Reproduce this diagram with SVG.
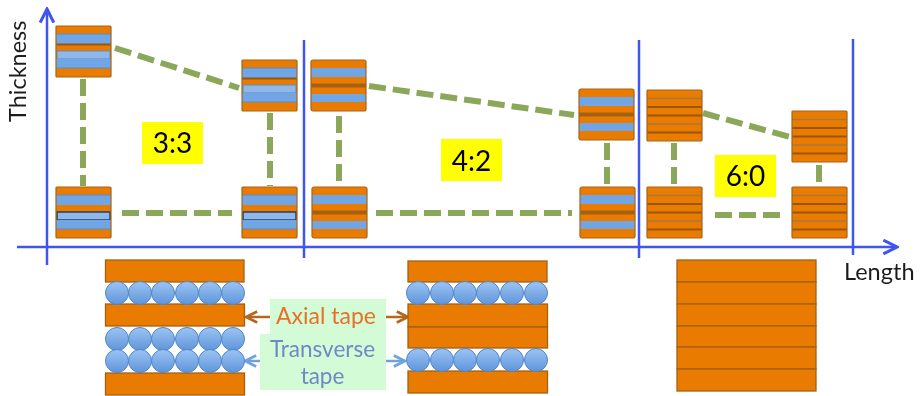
<svg xmlns="http://www.w3.org/2000/svg" width="920" height="396" viewBox="0 0 920 396">
<style>
text{font-family:"Lato","Open Sans","Liberation Sans",sans-serif}
.o{fill:#e97c03}
.b{fill:#6fa6e6}
.lb{fill:#8fb8e8;stroke:#5e8ac0;stroke-width:1}
.sep{stroke:#9a5508;stroke-width:2;fill:none}
.thin{stroke:#a8773c;stroke-width:1.5;fill:none}
.frame{fill:none;stroke:#a5651c;stroke-width:1.2}
.tape{fill:#e97c03;stroke:#a5600f;stroke-width:1.3}
.ball{fill:url(#ballfill);stroke:#4f86c6;stroke-width:1}
.ax{stroke:#3f55ee;stroke-width:2.5;fill:none}
.d{stroke:#8ba75a;stroke-width:6;fill:none;stroke-dasharray:17 7}
.ratio{fill:#ffff00}
.rt{font-size:28px;fill:#000;text-anchor:middle}
.lab{font-size:23.500px;fill:#1f1f1f}
.gb{fill:#d3fcd6}
</style>
<defs>
<linearGradient id="ballfill" x1="0" y1="0" x2="0" y2="1"><stop offset="0" stop-color="#9cc4f4"/><stop offset="1" stop-color="#5f95da"/></linearGradient>
<filter id="soft" x="-2%" y="-2%" width="104%" height="104%"><feGaussianBlur stdDeviation="0.65"/></filter>
<marker id="head" viewBox="0 0 10 10" refX="9" refY="5" markerWidth="17" markerHeight="17" markerUnits="userSpaceOnUse" orient="auto"><path d="M1 1 L9 5 L1 9" fill="none" stroke="#3f55ee" stroke-width="1.800"/></marker>
<marker id="brown" viewBox="0 0 10 10" refX="9" refY="5" markerWidth="14" markerHeight="14" markerUnits="userSpaceOnUse" orient="auto"><path d="M1 1 L9 5 L1 9" fill="none" stroke="#b5671f" stroke-width="2"/></marker>
<marker id="blue" viewBox="0 0 10 10" refX="9" refY="5" markerWidth="14" markerHeight="14" markerUnits="userSpaceOnUse" orient="auto"><path d="M1 1 L9 5 L1 9" fill="none" stroke="#6fa3dc" stroke-width="2"/></marker>
<g id="s33">
<rect class="o" width="55" height="51" rx="1"/>
<rect class="b" y="8" width="55" height="10"/>
<rect class="lb" x="1" y="25" width="53" height="8"/>
<rect class="b" y="33" width="55" height="9"/>
<path class="sep" d="M0 18.500H55"/>
<path d="M0 8H55M0 42H55" stroke="#5e8ac0" stroke-width="1"/>
<rect class="frame" width="55" height="51" rx="1"/>
</g>
<g id="s33k">
<rect class="o" width="55" height="51" rx="1"/>
<rect class="b" y="8" width="55" height="10"/>
<rect x="1" y="25" width="53" height="8" fill="#8fb8e8" stroke="#1f3f66" stroke-width="1.500"/>
<rect class="b" y="33" width="55" height="9"/>
<path d="M0 8H55M0 42H55" stroke="#5e8ac0" stroke-width="1"/>
<rect class="frame" width="55" height="51" rx="1"/>
</g>
<g id="s42">
<rect class="o" width="55" height="51" rx="2"/>
<rect class="b" y="8" width="55" height="9"/>
<rect class="b" y="34" width="55" height="8"/>
<path d="M0 25.500H55" stroke="#a5600f" stroke-width="4"/>
<rect class="frame" width="55" height="51" rx="2"/>
</g>
<g id="s60">
<rect class="o" width="55" height="51" rx="1"/>
<path class="thin" d="M0 8.500H55M0 34H55"/>
<path class="sep" d="M0 17H55M0 25.500H55M0 42.500H55"/>
<rect class="frame" width="55" height="51" rx="1"/>
</g>
</defs>
<rect width="920" height="396" fill="#fff"/>
<g filter="url(#soft)">
<g id="connectors">
<path class="d" d="M115 48L239 88M83 79V186M270 113V186M122 213H232"/>
<path class="d" d="M369 86L574 115M339 116V184M607 143V185M376 213H572"/>
<path class="d" d="M703 113L790 137M674 143V185M819 165V185M715 215H781"/>
<path d="M270 317H246" stroke="#b5671f" stroke-width="2.500" marker-end="url(#brown)"/>
<path d="M386 317H408" stroke="#b5671f" stroke-width="2.500" marker-end="url(#brown)"/>
<path d="M260 361H245" stroke="#6fa3dc" stroke-width="2.500" marker-end="url(#blue)"/>
<path d="M386 361H405" stroke="#6fa3dc" stroke-width="2.500" marker-end="url(#blue)"/>
</g>
<g id="axes">
<path class="ax" d="M47 265V9" marker-end="url(#head)"/>
<path class="ax" d="M17 247H897" marker-end="url(#head)"/>
<path class="ax" d="M304 40V258M639 40V258M853 39V255"/>
</g>
<g id="n33a"><use href="#s33" x="56" y="26"/></g>
<g id="n33b"><use href="#s33" x="242" y="60"/></g>
<g id="n33c"><use href="#s33k" x="56" y="187"/></g>
<g id="n33d"><use href="#s33k" x="242" y="187"/></g>
<g id="n42a"><use href="#s42" x="311" y="60"/></g>
<g id="n42b"><use href="#s42" x="579" y="89"/></g>
<g id="n42c"><use href="#s42" x="312" y="187"/></g>
<g id="n42d"><use href="#s42" x="580" y="187"/></g>
<g id="n60a"><use href="#s60" x="647" y="90"/></g>
<g id="n60b"><use href="#s60" x="792" y="111"/></g>
<g id="n60c"><use href="#s60" x="647" y="187"/></g>
<g id="n60d"><use href="#s60" x="792" y="187"/></g>
<g id="r33"><rect class="ratio" x="142" y="122" width="61" height="42"/><text class="rt" x="172.500" y="153">3:3</text></g>
<g id="r42"><rect class="ratio" x="441" y="139" width="61" height="42"/><text class="rt" x="471.500" y="171">4:2</text></g>
<g id="r60"><rect class="ratio" x="715" y="155" width="61" height="42"/><text class="rt" x="745.500" y="186">6:0</text></g>
<g id="thickness-label"><text class="lab" transform="translate(26 122) rotate(-90)">Thickness</text></g>
<g id="length-label"><text class="lab" x="844" y="280">Length</text></g>
<g id="tape-left">
<rect class="tape" x="105.500" y="260" width="138.500" height="22"/>
<rect class="tape" x="105.500" y="304" width="139" height="22"/>
<rect class="tape" x="105.500" y="373" width="139" height="22"/>
<g class="ball">
<circle cx="117" cy="293" r="11.500"/><circle cx="140" cy="293" r="11.500"/><circle cx="163" cy="293" r="11.500"/><circle cx="187" cy="293" r="11.500"/><circle cx="210" cy="293" r="11.500"/><circle cx="233" cy="293" r="11.500"/>
<circle cx="117" cy="339" r="11.500"/><circle cx="140" cy="339" r="11.500"/><circle cx="163" cy="339" r="11.500"/><circle cx="187" cy="339" r="11.500"/><circle cx="210" cy="339" r="11.500"/><circle cx="233" cy="339" r="11.500"/>
<circle cx="117" cy="361" r="11.500"/><circle cx="140" cy="361" r="11.500"/><circle cx="163" cy="361" r="11.500"/><circle cx="187" cy="361" r="11.500"/><circle cx="210" cy="361" r="11.500"/><circle cx="233" cy="361" r="11.500"/>
</g>
</g>
<g id="tape-middle">
<rect class="tape" x="408" y="261" width="139" height="21"/>
<rect class="tape" x="408" y="304" width="139.500" height="23"/>
<rect class="tape" x="408" y="327" width="139.500" height="21"/>
<rect class="tape" x="408" y="371" width="139.500" height="22"/>
<g class="ball">
<circle cx="418" cy="293" r="11.500"/><circle cx="442" cy="293" r="11.500"/><circle cx="465" cy="293" r="11.500"/><circle cx="488" cy="293" r="11.500"/><circle cx="512" cy="293" r="11.500"/><circle cx="536" cy="293" r="11.500"/>
<circle cx="418" cy="360" r="11.500"/><circle cx="442" cy="360" r="11.500"/><circle cx="465" cy="360" r="11.500"/><circle cx="488" cy="360" r="11.500"/><circle cx="512" cy="360" r="11.500"/><circle cx="536" cy="360" r="11.500"/>
</g>
</g>
<g id="tape-right">
<rect class="tape" x="677" y="260" width="139" height="22"/>
<rect class="tape" x="677" y="282" width="139" height="22"/>
<rect class="tape" x="677" y="304" width="139" height="22"/>
<rect class="tape" x="677" y="326" width="139" height="21"/>
<rect class="tape" x="677" y="347" width="139" height="22"/>
<rect class="tape" x="677" y="369" width="139" height="22"/>
</g>
<g id="axial-label"><rect class="gb" x="270" y="299" width="116" height="36"/><text x="326" y="324" font-size="23" fill="#e8702a" text-anchor="middle">Axial tape</text></g>
<g id="transverse-label"><rect class="gb" x="260" y="334" width="126" height="56"/><text x="322.500" y="357" font-size="22.500" fill="#6f88c4" text-anchor="middle">Transverse</text><text x="322.500" y="384" font-size="22.500" fill="#6f88c4" text-anchor="middle">tape</text></g>
</g>
</svg>
